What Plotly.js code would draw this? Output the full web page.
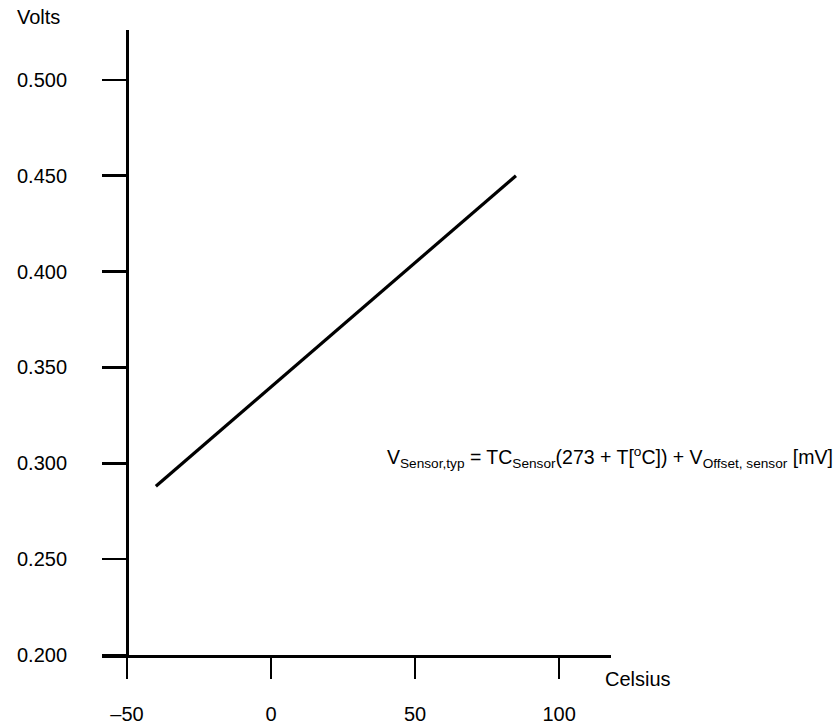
<!DOCTYPE html>
<html>
<head>
<meta charset="utf-8">
<script src="https://cdn.plot.ly/plotly-3.0.1.min.js"></script>
<style>html,body{margin:0;padding:0;background:#fff;}#chart{width:840px;height:723px;}</style>
</head>
<body>
<div id="chart"></div>
<script>
// Data
const temperatureC = [-40, 85];
const sensorVolts = [0.288, 0.450];
const xTickVals = [-50, 0, 50, 100];
const xTickText = ['\u201350', '0', '50', '100'];
const yTickVals = [0.200, 0.250, 0.300, 0.350, 0.400, 0.450, 0.500];
const yTickText = ['0.200', '0.250', '0.300', '0.350', '0.400', '0.450', '0.500'];
const xRange = [-58.7, 118];
const yRange = [0.2, 0.526];

const font = {family: 'Liberation Sans, Arial, sans-serif', size: 20, color: '#000'};
const eqFont = {family: 'Liberation Sans, Arial, sans-serif', size: 19.5, color: '#000'};

const trace = {
  x: temperatureC,
  y: sensorVolts,
  type: 'scatter',
  mode: 'lines',
  line: {color: '#000', width: 3.2},
  hoverinfo: 'skip'
};

const yPos = (xTickVals[0] - xRange[0]) / (xRange[1] - xRange[0]);

const layout = {
  width: 840,
  height: 723,
  margin: {l: 102, r: 229, t: 30, b: 68},
  paper_bgcolor: '#fff',
  plot_bgcolor: '#fff',
  showlegend: false,
  font: font,
  xaxis: {
    range: xRange,
    tickvals: xTickVals,
    ticktext: xTickText,
    ticks: 'outside',
    ticklen: 21,
    tickwidth: 2.5,
    tickcolor: '#000',
    showline: true,
    linecolor: '#000',
    linewidth: 3,
    showgrid: false,
    zeroline: false,
    ticklabelstandoff: 18,
    tickfont: font
  },
  yaxis: {
    range: yRange,
    tickvals: yTickVals,
    ticktext: yTickText,
    ticks: 'outside',
    ticklen: 24,
    tickwidth: 2.5,
    tickcolor: '#000',
    showline: true,
    linecolor: '#000',
    linewidth: 3,
    showgrid: false,
    zeroline: false,
    anchor: 'free',
    position: yPos,
    ticklabelstandoff: 31,
    tickfont: font
  },
  annotations: [
    {text: 'Volts', xref: 'paper', yref: 'paper', x: -0.17, y: 1.0, xanchor: 'left', yanchor: 'bottom', showarrow: false, font: font},
    {text: 'Celsius', xref: 'paper', yref: 'paper', x: 0.985, y: -0.018, xanchor: 'left', yanchor: 'top', showarrow: false, font: font},
    {text: 'V<sub>Sensor,typ</sub> = TC<sub>Sensor</sub>(273 + T[<sup>o</sup>C]) + V<sub>Offset, sensor</sub> [mV]',
     xref: 'x', yref: 'y', x: 39.5, y: 0.303, xanchor: 'left', yanchor: 'middle', showarrow: false, font: eqFont}
  ]
};

Plotly.newPlot('chart', [trace], layout, {staticPlot: true, displayModeBar: false});
</script>
</body>
</html>
